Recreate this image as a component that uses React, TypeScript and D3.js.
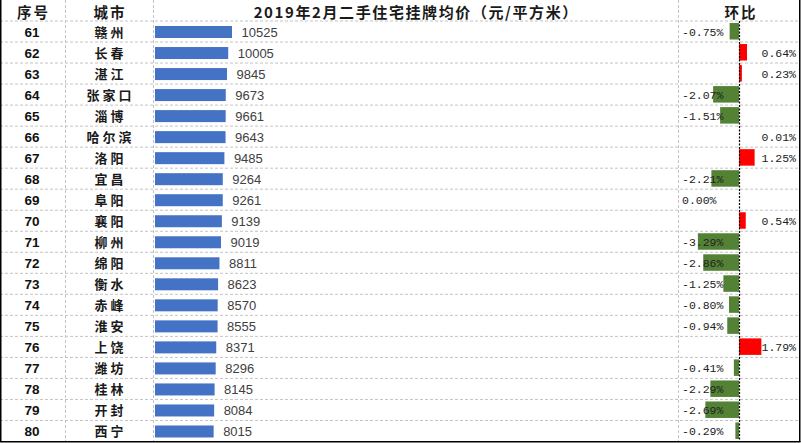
import React from "react";
import * as d3 from "d3";

const ranks = ["61","62","63","64","65","66","67","68","69","70","71","72","73","74","75","76","77","78","79","80"];
const cities = ["赣州","长春","湛江","张家口","淄博","哈尔滨","洛阳","宜昌","阜阳","襄阳","柳州","绵阳","衡水","赤峰","淮安","上饶","潍坊","桂林","开封","西宁"];
const prices = [10525,10005,9845,9673,9661,9643,9485,9264,9261,9139,9019,8811,8623,8570,8555,8371,8296,8145,8084,8015];
const changes = [-0.75,0.64,0.23,-2.07,-1.51,0.01,1.25,-2.21,0.00,0.54,-3.29,-2.86,-1.25,-0.80,-0.94,1.79,-0.41,-2.29,-2.69,-0.29];
const headers = ["序号","城市","2019年2月二手住宅挂牌均价（元/平方米）","环比"];

const W = 801, H = 443;
const headerH = 21;
const bottom = 441.5;
const colX = [0, 65, 153, 678, 800];

export default function App() {
  const y = d3.scaleBand<number>().domain(d3.range(ranks.length)).range([headerH, bottom]).padding(0);
  const xPrice = d3.scaleLinear().domain([0, 10525]).range([155, 232]);
  const xPct = d3.scaleLinear().domain([0, 1]).range([739, 751.5]);
  const step = y.step();
  const cjk = "'Noto Sans CJK SC', sans-serif";
  const headerCenters = [32.5, 109, 415.5, 740];

  return (
    <svg width={W} height={H} style={{ position: "absolute", left: 0, top: 0, background: "#fff" }}>
      <rect x={0} y={0} width={W} height={H} fill="#fff" />
      {d3.range(ranks.length).map((i) => (
        <line key={"h" + i} x1={0} x2={800} y1={y(i)!} y2={y(i)!} stroke="#c4c4c4" strokeWidth={1} strokeDasharray="3,2" />
      ))}
      {colX.slice(1, 4).map((x, i) => (
        <line key={"v" + i} x1={x + 0.5} x2={x + 0.5} y1={0} y2={bottom} stroke="#c4c4c4" strokeWidth={1} strokeDasharray="3,2" />
      ))}
      {headers.map((h, i) => (
        <text key={"hd" + i} x={headerCenters[i] + (i === 2 ? 0.8 : 1)} y={11} dominantBaseline="central" textAnchor="middle"
          fontFamily={cjk} fontWeight={700} fontSize={i === 2 ? 15 : 14.5} letterSpacing={i === 2 ? 1.6 : 2} fill="#1a1a1a">{h}</text>
      ))}
      {ranks.map((r, i) => {
        const cy = y(i)! + step / 2;
        const v = changes[i];
        const xv = xPct(v);
        const neg = v <= 0;
        const lbl = v.toFixed(2) + "%";
        return (
          <g key={"r" + i}>
            <text x={32} y={cy + 0.5} dominantBaseline="central" textAnchor="middle" fontFamily="'Liberation Sans', Arial, sans-serif"
              fontWeight={700} fontSize={13.5} fill="#111">{r}</text>
            <text x={109 + 1.5} y={cy} dominantBaseline="central" textAnchor="middle" fontFamily={cjk}
              fontWeight={700} fontSize={13} letterSpacing={3} fill="#1a1a1a">{cities[i]}</text>
            <rect x={xPrice(0)} y={cy - 5.5} width={xPrice(prices[i]) - xPrice(0)} height={12} fill="#4472C4" />
            <text x={xPrice(prices[i]) + 9.5} y={cy + 1} dominantBaseline="central" fontFamily="'Liberation Sans', Arial, sans-serif"
              fontSize={13} fill="#404040">{prices[i]}</text>
            {v !== 0 && (
              <rect x={Math.min(xv, xPct(0))} y={cy - 8.5} width={Math.abs(xv - xPct(0))} height={16.5}
                fill={v < 0 ? "#548235" : "#FF0000"} />
            )}
            <text x={neg ? 682 : 796} y={cy + 0.5} dominantBaseline="central" textAnchor={neg ? "start" : "end"}
              fontFamily="'Liberation Mono', 'DejaVu Sans Mono', monospace" fontSize={11.5} fill="#222">{lbl}</text>
          </g>
        );
      })}
      <line x1={xPct(0) + 0.5} x2={xPct(0) + 0.5} y1={headerH} y2={bottom} stroke="#000" strokeWidth={1.2} strokeDasharray="2,1.5" />
      <line x1={0.75} x2={0.75} y1={0} y2={442} stroke="#000" strokeWidth={1.5} />
      <line x1={799.75} x2={799.75} y1={0} y2={442} stroke="#000" strokeWidth={1.5} />
      <line x1={0} x2={800.5} y1={441.75} y2={441.75} stroke="#000" strokeWidth={1.5} />
    </svg>
  );
}
